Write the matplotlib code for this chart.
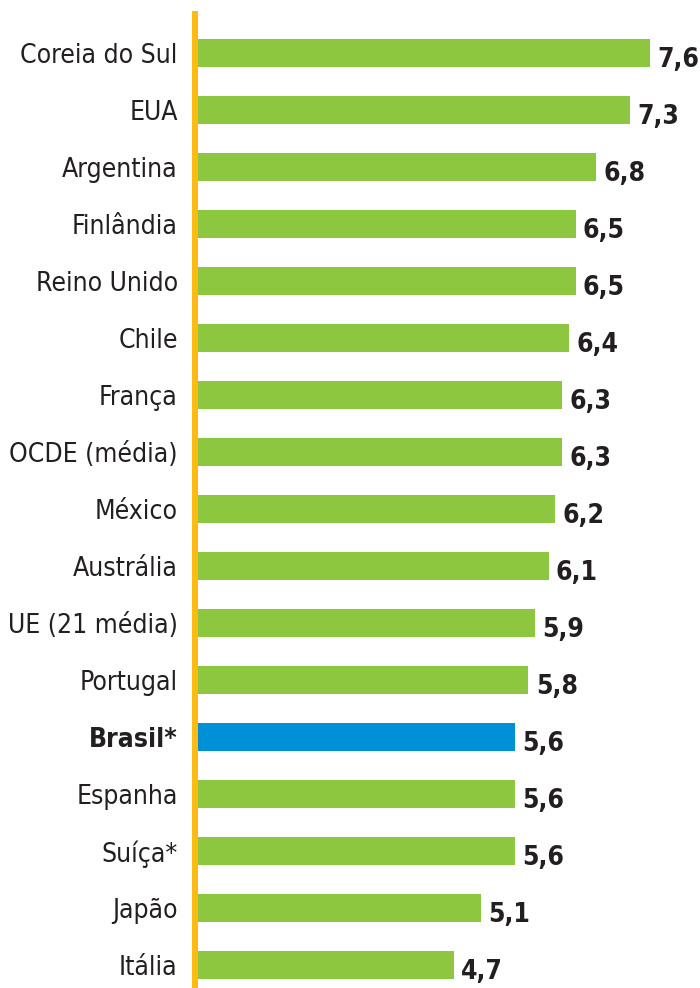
import matplotlib
matplotlib.use("Agg")
from matplotlib import pyplot as plt
from matplotlib import font_manager as fm

paises = ['Coreia do Sul', 'EUA', 'Argentina', 'Finlândia', 'Reino Unido', 'Chile',
          'França', 'OCDE (média)', 'México', 'Austrália', 'UE (21 média)', 'Portugal',
          'Brasil*', 'Espanha', 'Suíça*', 'Japão', 'Itália']
valores = [7.6, 7.3, 6.8, 6.5, 6.5, 6.4, 6.3, 6.3, 6.2, 6.1, 5.9, 5.8, 5.6, 5.6, 5.6, 5.1, 4.7]
rotulos = ['7,6', '7,3', '6,8', '6,5', '6,5', '6,4', '6,3', '6,3', '6,2', '6,1', '5,9', '5,8',
           '5,6', '5,6', '5,6', '5,1', '4,7']
destaque = 'Brasil*'

verde = '#8DC63F'
azul = '#0090D5'
texto = '#231F20'

# look for a condensed face; otherwise use Liberation Sans a bit smaller
def estreita(f):
    return ('Condensed' in f.name or 'Narrow' in f.name
            or str(f.stretch) in ('condensed', 'semi-condensed', 'extra-condensed'))

cand = [f for f in fm.fontManager.ttflist if estreita(f) and 'Mono' not in f.name]
reg = [f for f in cand if f.weight in (400, 'normal', 'regular') and f.style == 'normal']
neg = [f for f in cand if f.weight in (700, 'bold') and f.style == 'normal']
if reg and neg:
    fp = fm.FontProperties(fname=reg[0].fname)
    fb = fm.FontProperties(fname=neg[0].fname)
    tam_rot, tam_val = 19, 19
else:
    fp = fm.FontProperties(family='Liberation Sans')
    fb = fm.FontProperties(family='Liberation Sans', weight='bold')
    tam_rot, tam_val = 17, 18

fig = plt.figure(figsize=(7, 9.88), dpi=100)
ax = fig.add_axes([195 / 700, 0, 1 - 195 / 700, 1 - 14 / 988])

pos = list(range(len(paises)))
cores = [azul if p == destaque else verde for p in paises]
ax.barh(pos, valores, height=0.49, color=cores, zorder=1)

for y, v, r in zip(pos, valores, rotulos):
    ax.text(v + 0.11, y + 0.25, r, ha='left', va='baseline', fontproperties=fb,
            fontsize=tam_val, color=texto)

ax.set_xlim(0.867, 8.342)
ax.set_ylim(16.40, -0.684)

ax.set_yticks(pos)
ax.set_yticklabels(paises, color=texto)
for lab in ax.get_yticklabels():
    if lab.get_text() == destaque:
        lab.set_fontproperties(fb)
    else:
        lab.set_fontproperties(fp)
    lab.set_fontsize(tam_rot)
ax.tick_params(axis='y', length=0, pad=12.5)
ax.set_xticks([])

for s in ['top', 'right', 'bottom']:
    ax.spines[s].set_visible(False)
ax.spines['left'].set_color('#FCBA12')
ax.spines['left'].set_linewidth(4.3)
ax.spines['left'].set_zorder(3)

fig.savefig('out.png', dpi=100)
